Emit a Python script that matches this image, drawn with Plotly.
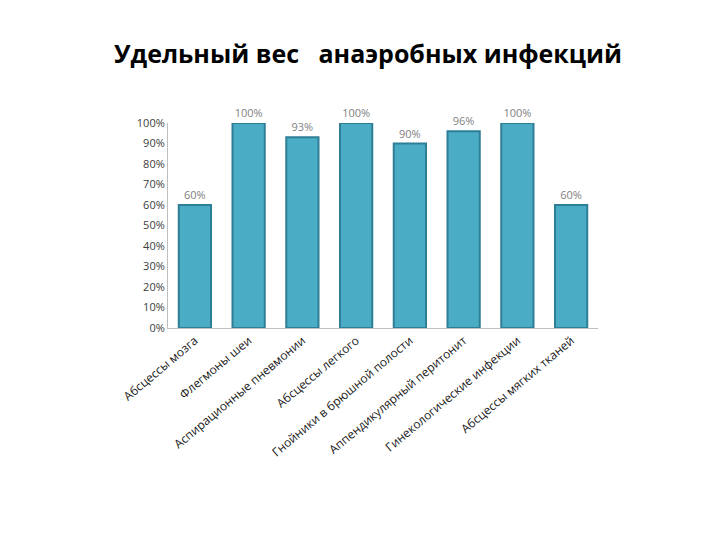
import plotly.graph_objects as go

categories = ["Абсцессы мозга", "Флегмоны шеи", "Аспирационные пневмонии", "Абсцессы легкого",
              "Гнойники в брюшной полости", "Аппендикулярный перитонит",
              "Гинекологические инфекции", "Абсцессы мягких тканей"]
values = [60, 100, 93, 100, 90, 96, 100, 60]
labels = [f"{v}%" for v in values]

fig = go.Figure(go.Bar(
    x=categories, y=values, text=labels, textposition="outside",
    textfont=dict(color="#7f7f7f", size=11),
    marker=dict(color="#4bacc6", line=dict(color="#2e7f95", width=2)),
    width=0.6, cliponaxis=False,
))

fig.update_layout(
    width=720, height=540,
    title=dict(text="<b>Удельный вес   анаэробных инфекций</b>", x=0.5, y=0.93,
               font=dict(family="Open Sans", size=25, color="black")),
    font=dict(family="Open Sans", color="#404040"),
    plot_bgcolor="white", paper_bgcolor="white",
    margin=dict(l=160, r=130, t=115, b=220),
    showlegend=False,
    xaxis=dict(tickangle=-40, tickfont=dict(size=12, color="#202020"),
               showline=True, linecolor="#bfbfbf"),
    yaxis=dict(range=[0, 100], dtick=10, ticksuffix="%", tickfont=dict(size=11),
               showgrid=False, showline=True, linecolor="#bfbfbf"),
)

fig.write_html("out.html")
